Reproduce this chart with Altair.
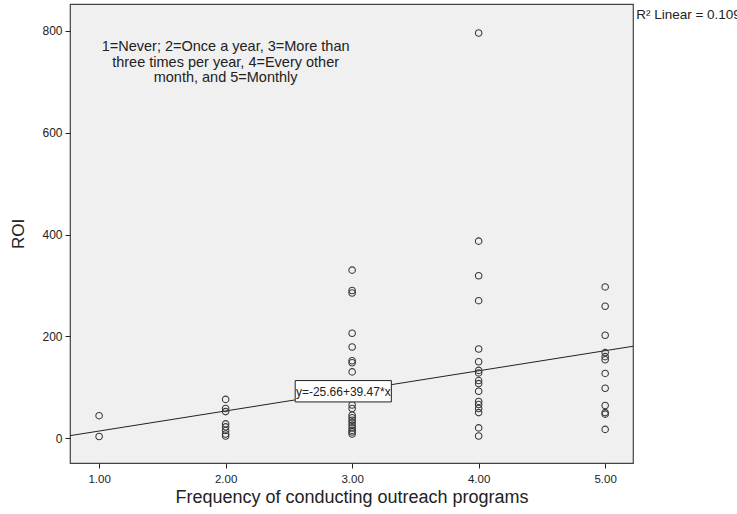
import altair as alt
import pandas as pd

# ROI observed at each outreach-frequency level (1..5)
roi_freq1 = [44, 3]
roi_freq2 = [76, 58, 52, 28, 22, 15, 8, 4]
roi_freq3 = [330, 290, 285, 206, 179, 152, 148, 130, 65, 58, 45, 40, 35, 30, 25, 20, 15, 12, 8]
roi_freq4 = [796, 387, 319, 270, 175, 150, 133, 128, 113, 107, 92, 72, 66, 58, 50, 20, 4]
roi_freq5 = [297, 259, 202, 168, 160, 154, 127, 98, 64, 50, 47, 17]

# Fitted linear model
intercept = -25.66
slope = 39.47
r_squared = 0.109

x_domain = [0.77, 5.22]
y_domain = [-49, 853]
x_ticks = [1, 2, 3, 4, 5]
y_ticks = [0, 200, 400, 600, 800]

FONT = "Arial, Liberation Sans, sans-serif"

rows = []
for level, values in enumerate([roi_freq1, roi_freq2, roi_freq3, roi_freq4, roi_freq5], start=1):
    rows += [{"freq": float(level), "roi": v} for v in values]
points_df = pd.DataFrame(rows)

fit_df = pd.DataFrame({
    "freq": x_domain,
    "roi": [intercept + slope * x for x in x_domain],
})

x_scale = alt.Scale(domain=x_domain, nice=False, zero=False)
y_scale = alt.Scale(domain=y_domain, nice=False, zero=False)

x_enc = alt.X(
    "freq:Q", scale=x_scale,
    axis=alt.Axis(title="Frequency of conducting outreach programs", values=x_ticks,
                  format=".2f", grid=False, domain=False, tickSize=5,
                  tickColor="#222", labelColor="#222", labelFontSize=11.5,
                  labelFont=FONT, titleFont=FONT, titleFontSize=18,
                  titleFontWeight="normal", titleColor="#222", labelPadding=5,
                  titlePadding=4),
)
y_enc = alt.Y(
    "roi:Q", scale=y_scale,
    axis=alt.Axis(title="ROI", values=y_ticks, grid=False, domain=False, tickSize=5,
                  tickColor="#222", labelColor="#222", labelFontSize=12,
                  labelFont=FONT, titleFont=FONT, titleFontSize=17,
                  titleFontWeight="normal", titleColor="#222", labelPadding=3,
                  titlePadding=14),
)

fit_line = alt.Chart(fit_df).mark_line(color="#222", strokeWidth=1, clip=True).encode(
    x=x_enc, y=y_enc
)

scatter = alt.Chart(points_df).mark_point(
    shape="circle", filled=False, color="#3a3a3a", strokeWidth=1.1, size=42, opacity=1
).encode(x="freq:Q", y="roi:Q")

# Equation label box
eq_text = f"y={intercept:.2f}+{slope:.2f}*x"
eq_box_df = pd.DataFrame({"x1": [2.55], "x2": [3.31], "y1": [71], "y2": [113]})
eq_box = alt.Chart(eq_box_df).mark_rect(fill="white", stroke="#222", strokeWidth=1).encode(
    x="x1:Q", x2="x2:Q", y="y1:Q", y2="y2:Q"
)
eq_label = alt.Chart(pd.DataFrame({"x": [2.93], "y": [91], "t": [eq_text]})).mark_text(
    font=FONT, fontSize=12, color="#222", align="center", baseline="middle"
).encode(x="x:Q", y="y:Q", text="t:N")

# Coding legend note
note_lines = ["1=Never; 2=Once a year, 3=More than",
              "three times per year, 4=Every other",
              "month, and 5=Monthly"]
note = alt.Chart(pd.DataFrame({"x": [2.0], "y": [768], "t": [note_lines]})).mark_text(
    font=FONT, fontSize=14.5, color="#222", align="center", baseline="middle", lineHeight=15.5
).encode(x="x:Q", y="y:Q", text="t:N")

r2_label = alt.Chart(pd.DataFrame({"x": [5.245], "y": [832],
                                   "t": [f"R² Linear = {r_squared:.3f}"]})).mark_text(
    font=FONT, fontSize=13.5, color="#222", align="left", baseline="middle"
).encode(x="x:Q", y="y:Q", text="t:N")

chart = alt.layer(fit_line, scatter, eq_box, eq_label, note, r2_label).properties(
    width=563, height=459,
    autosize=alt.AutoSizeParams(type="none"),
    padding={"left": 70, "top": 4, "right": 104, "bottom": 51},
    background="white",
).configure_view(
    fill="#f0f0f0", stroke="#444", strokeWidth=1.2
)

chart.save("out.html", embed_options={"renderer": "svg", "actions": False})
